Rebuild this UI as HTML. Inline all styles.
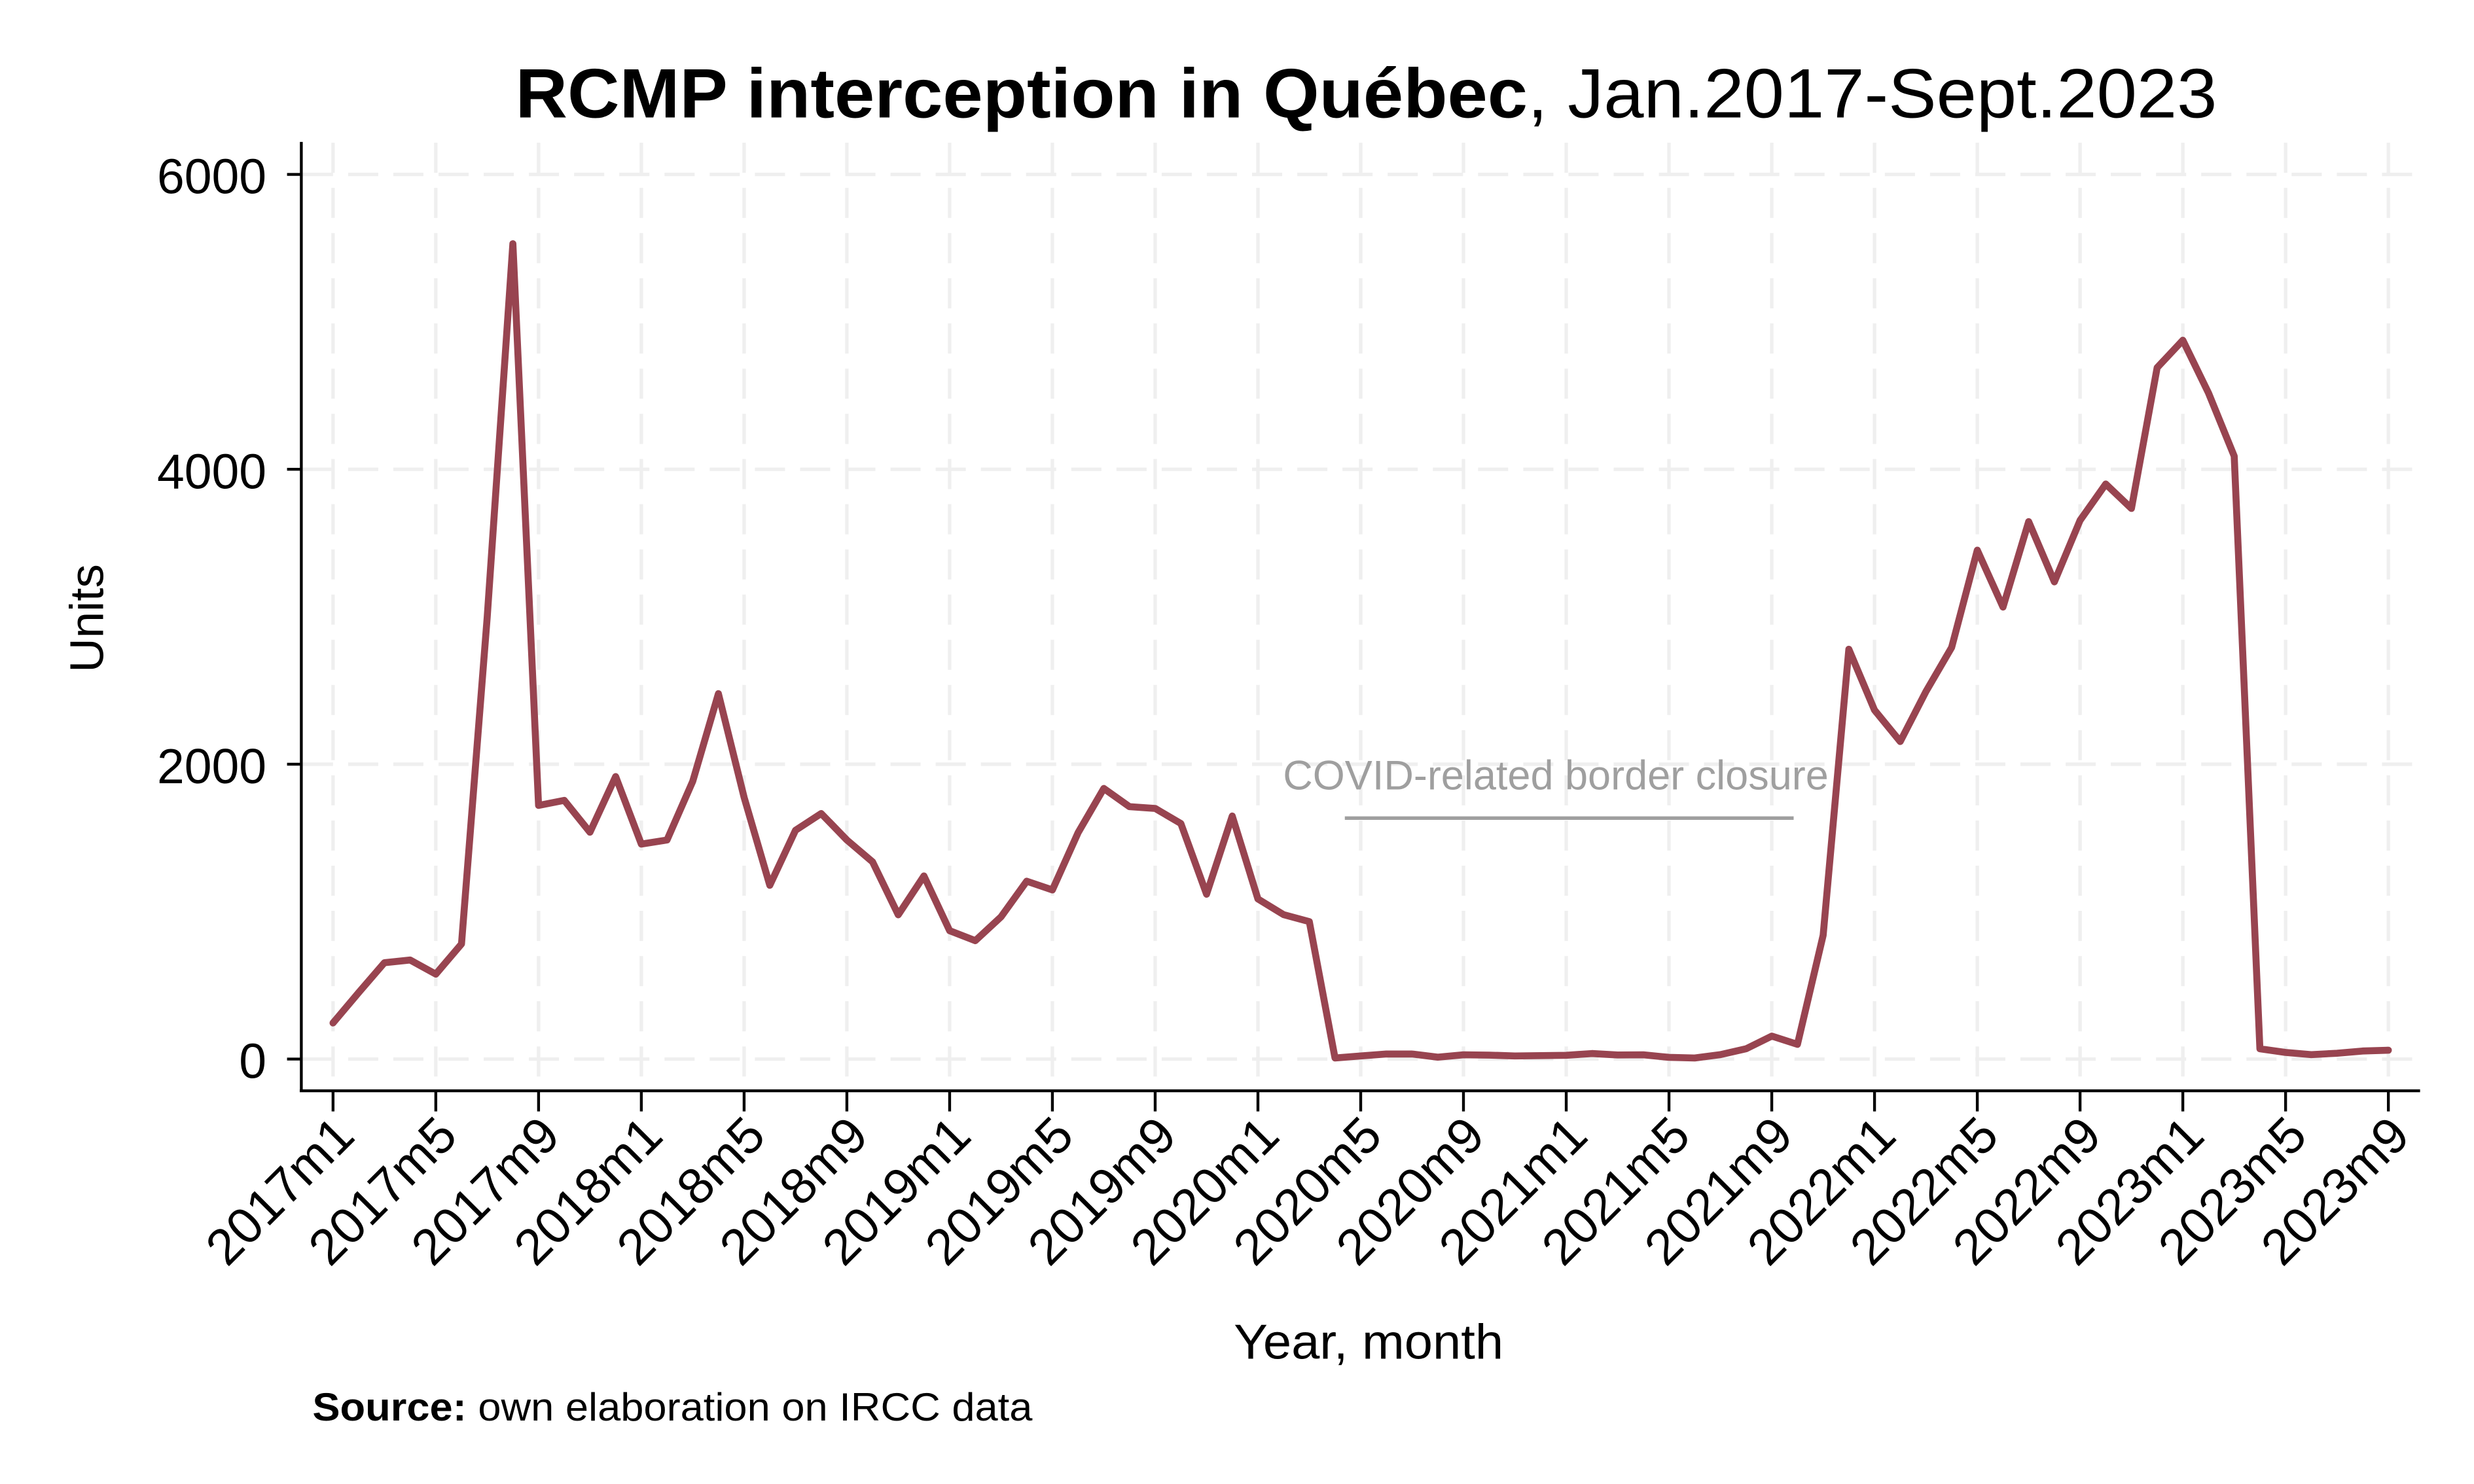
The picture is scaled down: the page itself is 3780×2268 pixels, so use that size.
<!DOCTYPE html>
<html><head><meta charset="utf-8"><style>
html,body{margin:0;padding:0;background:#fff}
svg{display:block}
text{font-family:"Liberation Sans",sans-serif}
</style></head><body>
<svg xmlns="http://www.w3.org/2000/svg" width="3780" height="2268" viewBox="0 0 1560 936">
<rect width="1560" height="936" fill="#fff"/>
<g id="grid" stroke="#efefef" stroke-width="2.2" stroke-dasharray="19 9.5" fill="none"></g>
<line x1="190" y1="89.5" x2="190" y2="688" stroke="#000" stroke-width="1.8"/>
<line x1="189" y1="688" x2="1526" y2="688" stroke="#000" stroke-width="1.8"/>
<g id="yt" font-size="31" text-anchor="end"></g>
<g id="xt" font-size="32" text-anchor="end"></g>
<text x="325" y="74" font-size="44" textLength="1073" lengthAdjust="spacingAndGlyphs"><tspan font-weight="bold">RCMP interception in Québec</tspan>, Jan.2017-Sept.2023</text>
<text transform="translate(65,390) rotate(-90)" font-size="30" text-anchor="middle">Units</text>
<text x="778" y="857" font-size="31" textLength="170" lengthAdjust="spacingAndGlyphs">Year, month</text>
<text x="197" y="896" font-size="25" textLength="454" lengthAdjust="spacingAndGlyphs"><tspan font-weight="bold">Source:</tspan> own elaboration on IRCC data</text>
<text x="809" y="498" font-size="26" fill="#9f9f9f" textLength="344" lengthAdjust="spacingAndGlyphs">COVID-related border closure</text>
<line x1="848" y1="516" x2="1131" y2="516" stroke="#9f9f9f" stroke-width="2.2"/>
<polyline id="ser" fill="none" stroke="#984450" stroke-width="4.4" stroke-linejoin="round" stroke-linecap="round"/>
<script>
var d=[245,452,654,672,576,781,2996,5530,1720,1755,1539,1916,1458,1486,1884,2479,1775,1179,1552,1666,1486,1338,978,1242,871,803,965,1206,1147,1536,1835,1712,1700,1598,1118,1648,1086,980,932,7,21,34,34,13,29,27,22,24,26,38,28,29,12,8,30,70,156,100,840,2780,2367,2154,2492,2791,3452,3066,3645,3237,3654,3900,3734,4689,4875,4517,4089,70,45,30,40,55,60];
function X(i){return 210+i*16.2}function Y(v){return 668-v*0.093}
var ns="http://www.w3.org/2000/svg";
document.getElementById('ser').setAttribute('points',d.map(function(v,i){return X(i).toFixed(1)+','+Y(v).toFixed(1)}).join(' '));
var g=document.getElementById('grid'),yt=document.getElementById('yt'),xt=document.getElementById('xt');
function el(p,t,a){var e=document.createElementNS(ns,t);for(var k in a)e.setAttribute(k,a[k]);p.appendChild(e);return e}
[0,2000,4000,6000].forEach(function(v){var y=Y(v);el(g,'line',{x1:191,y1:y,x2:1526,y2:y});
el(document.querySelector('svg'),'line',{x1:181,y1:y,x2:190,y2:y,stroke:'#000','stroke-width':1.8});
var t=el(yt,'text',{x:168,y:y+12});t.textContent=v;});
var lab=[];for(var yr=2017;yr<=2023;yr++)for(var m=1;m<=9;m+=4)lab.push(yr+'m'+m);
lab.forEach(function(s,k){var x=X(k*4);el(g,'line',{x1:x,y1:90,x2:x,y2:687});
el(document.querySelector('svg'),'line',{x1:x,y1:688,x2:x,y2:701,stroke:'#000','stroke-width':1.8});
var t=el(xt,'text',{transform:'translate('+(x+15)+',718) rotate(-45)'});t.textContent=s;});
</script>
</svg>
</body></html>
